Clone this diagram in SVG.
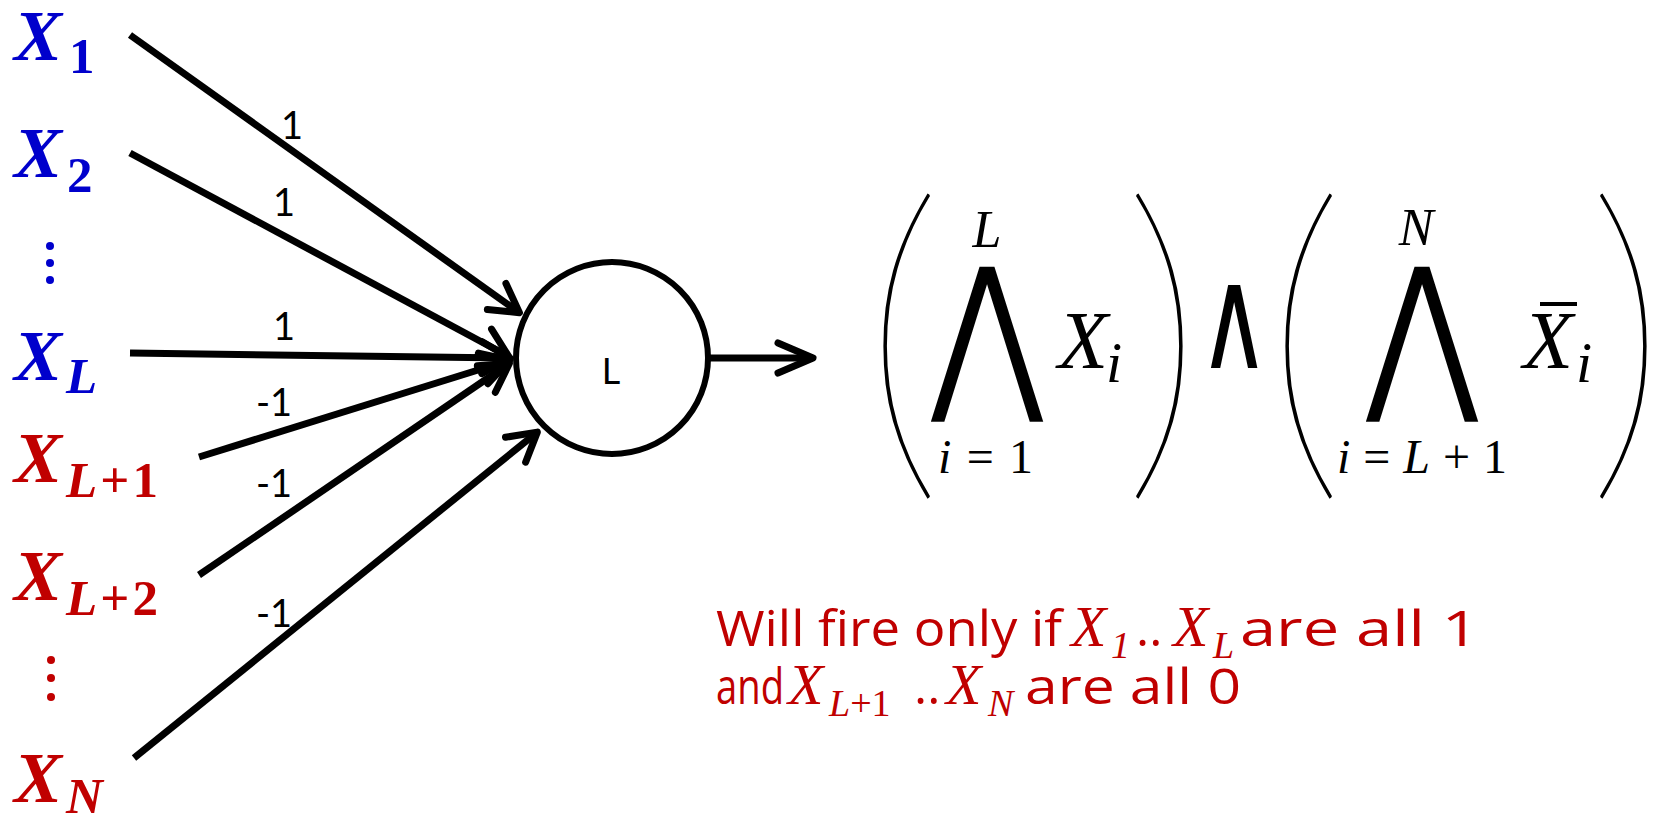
<svg xmlns="http://www.w3.org/2000/svg" width="1660" height="817" viewBox="0 0 1660 817">
<style>
.in{font-family:"Liberation Serif",serif;font-weight:bold;}
.X{font-style:italic;font-size:72px;}
.sub{font-size:51px;}
.it{font-style:italic;}
.up{font-style:normal;}
.blue{fill:#0000CC;}
.red{fill:#C00000;}
.w{font-family:Lato,"Open Sans",sans-serif;font-size:38px;fill:#000;text-anchor:middle;}
.edge{stroke:#000;stroke-width:7;fill:none;}
.m{font-family:"Liberation Serif",serif;fill:#000;}
.par{font-family:Lato,sans-serif;font-weight:200;font-size:200px;fill:#000;text-anchor:middle;}
.big{font-family:"DejaVu Sans",sans-serif;fill:#000;text-anchor:middle;}
.note{font-family:"Open Sans",sans-serif;font-size:50px;fill:#C00000;}
.nm{font-family:"Liberation Serif",serif;font-style:italic;fill:#C00000;}
</style>
<defs>
<marker id="ah" markerUnits="userSpaceOnUse" viewBox="-40 -25 50 50" refX="0" refY="0" markerWidth="50" markerHeight="50" orient="auto" overflow="visible">
<path d="M-25,-16 L3,0 L-25,16" fill="none" stroke="#000" stroke-width="7" stroke-linecap="round" stroke-linejoin="round"/>
</marker>
<marker id="ah2" markerUnits="userSpaceOnUse" viewBox="-40 -25 50 50" refX="0" refY="0" markerWidth="50" markerHeight="50" orient="auto" overflow="visible">
<path d="M-32,-15 L3,0 L-32,15" fill="none" stroke="#000" stroke-width="7" stroke-linecap="round" stroke-linejoin="round"/>
</marker>
</defs>

<g id="x1" class="in blue"><text x="14" y="60" class="X">X</text><text x="69" y="73" class="sub">1</text></g>
<g id="x2" class="in blue"><text x="14" y="177" class="X">X</text><text x="67" y="192" class="sub">2</text></g>
<g id="dots-blue" class="blue"><circle cx="50" cy="246" r="4"/><circle cx="50" cy="263" r="4"/><circle cx="50" cy="280" r="4"/></g>
<g id="xL" class="in blue"><text x="14" y="380" class="X">X</text><text x="66" y="393" class="sub it">L</text></g>
<g id="xL1" class="in red"><text x="14" y="482" class="X">X</text><text x="66" y="497" class="sub" textLength="92" lengthAdjust="spacing"><tspan class="it">L</tspan>+1</text></g>
<g id="xL2" class="in red"><text x="14" y="600" class="X">X</text><text x="66" y="615" class="sub" textLength="92" lengthAdjust="spacing"><tspan class="it">L</tspan>+2</text></g>
<g id="dots-red" class="red"><circle cx="51" cy="660" r="4"/><circle cx="51" cy="678" r="4"/><circle cx="51" cy="697" r="4"/></g>
<g id="xN" class="in red"><text x="14" y="802" class="X">X</text><text x="66" y="813" class="sub it">N</text></g>

<g id="neuron">
<circle cx="612" cy="358" r="96" fill="#fff" stroke="#000" stroke-width="6"/>
<text x="611" y="384" font-family="Lato,sans-serif" font-size="36" text-anchor="middle">L</text>
</g>

<g id="connectors">
<line class="edge" x1="130" y1="35" x2="517" y2="311" marker-end="url(#ah)"/>
<line class="edge" x1="130" y1="153" x2="506" y2="355" marker-end="url(#ah)"/>
<line class="edge" x1="130" y1="353" x2="507" y2="358" marker-end="url(#ah)"/>
<line class="edge" x1="199" y1="457" x2="507" y2="361" marker-end="url(#ah)"/>
<line class="edge" x1="199" y1="575" x2="507" y2="365" marker-end="url(#ah)"/>
<line class="edge" x1="134" y1="758" x2="535" y2="434" marker-end="url(#ah)"/>
<line class="edge" x1="709" y1="358" x2="810" y2="358" marker-end="url(#ah2)"/>
</g>

<g id="weights" class="w">
<text x="292" y="139">1</text>
<text x="284" y="216">1</text>
<text x="284" y="340">1</text>
<text x="274" y="416">-1</text>
<text x="274" y="497">-1</text>
<text x="274" y="627">-1</text>
</g>

<g id="formula">
<text class="par" transform="translate(903,321) scale(1.6,1.75)" dominant-baseline="central">(</text>
<text class="big" transform="translate(987,389) scale(0.8,1)" font-size="170">⋀</text>
<text class="m it" x="987" y="247" font-size="52" text-anchor="middle">L</text>
<text class="m" x="938" y="473" font-size="48" textLength="95" lengthAdjust="spacing"><tspan class="it">i</tspan>=1</text>
<text class="m it" x="1058" y="368" font-size="82">X</text>
<text class="m it" x="1106" y="382" font-size="58">i</text>
<text class="par" transform="translate(1163,321) scale(1.6,1.75)" dominant-baseline="central">)</text>
<text class="big" transform="translate(1234,368) scale(1.4,2.05)" font-size="70">∧</text>
<text class="par" transform="translate(1305,321) scale(1.6,1.75)" dominant-baseline="central">(</text>
<text class="big" transform="translate(1422,389) scale(0.8,1)" font-size="170">⋀</text>
<text class="m it" x="1416" y="245" font-size="52" text-anchor="middle">N</text>
<text class="m" x="1337" y="473" font-size="48" textLength="170" lengthAdjust="spacing"><tspan class="it">i</tspan>=<tspan class="it">L</tspan>+1</text>
<text class="m it" x="1523" y="368" font-size="82">X</text>
<line x1="1540" y1="304" x2="1577" y2="304" stroke="#000" stroke-width="4"/>
<text class="m it" x="1576" y="382" font-size="58">i</text>
<text class="par" transform="translate(1627,321) scale(1.6,1.75)" dominant-baseline="central">)</text>
</g>

<g id="note">
<text class="note" x="716" y="646" textLength="346" lengthAdjust="spacingAndGlyphs">Will fire only if</text>
<text class="nm" x="1071" y="646" font-size="58">X</text>
<text class="nm up" x="1111" y="658" font-size="38">1</text>
<text class="note" x="1136" y="646">..</text>
<text class="nm" x="1173" y="646" font-size="58">X</text>
<text class="nm" x="1213" y="658" font-size="38">L</text>
<text class="note" x="1240" y="646" textLength="239" lengthAdjust="spacingAndGlyphs">are all 1</text>
<text class="note" x="716" y="704" textLength="68" lengthAdjust="spacingAndGlyphs">and</text>
<text class="nm" x="788" y="704" font-size="58">X</text>
<text class="nm" x="829" y="716" font-size="38">L<tspan class="up">+1</tspan></text>
<text class="note" x="914" y="704">..</text>
<text class="nm" x="946" y="704" font-size="58">X</text>
<text class="nm" x="988" y="716" font-size="38">N</text>
<text class="note" x="1025" y="704" textLength="216" lengthAdjust="spacingAndGlyphs">are all 0</text>
</g>
</svg>
